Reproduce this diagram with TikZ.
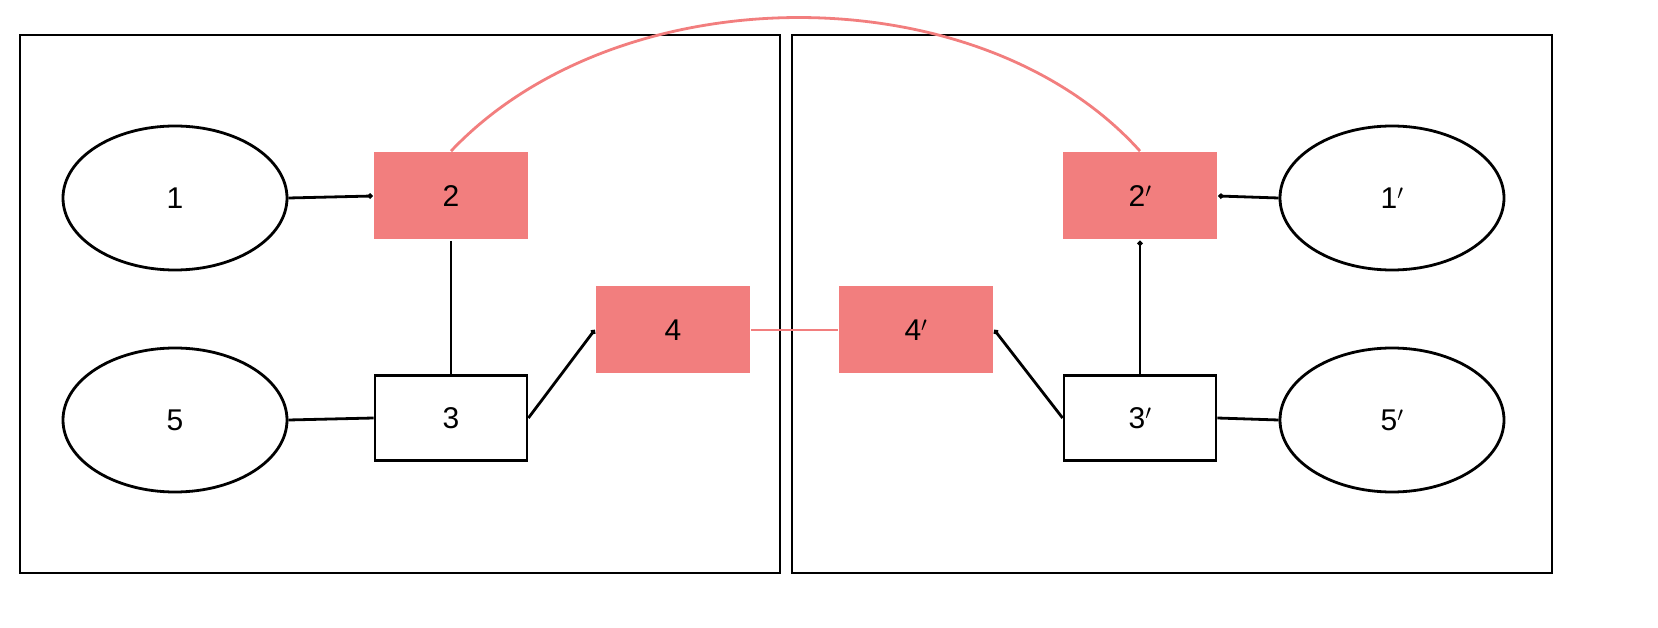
\documentclass[tikz,border=0pt]{standalone}
\usepackage{fontspec}
\setmainfont{Liberation Sans}
\usetikzlibrary{shapes.geometric,arrows.meta}
\definecolor{salmon}{HTML}{F27E7E}
\begin{document}
\begin{tikzpicture}[x=1pt,y=-1pt,line width=2.8pt,
  ell/.style={draw,ellipse,minimum width=224pt,minimum height=144pt,font=\fontsize{30}{30}\selectfont},
  redbox/.style={fill=salmon,minimum width=154pt,minimum height=87pt,font=\fontsize{30}{30}\selectfont},
  whitebox/.style={draw,fill=white,minimum width=152pt,minimum height=85pt,font=\fontsize{30}{30}\selectfont},
  dotend/.style={-{Circle[length=5pt]}}]
\path[use as bounding box] (0,0) rectangle (1658,628);
\begin{scope}[overlay]
\node[draw,minimum width=760pt,minimum height=538pt] (L) at (400,304) {};
\node[draw,minimum width=760pt,minimum height=538pt] (R) at (1172,304) {};
\node[ell] (n1) at (175,198) {1};
\node[ell] (n5) at (175,420) {5};
\node[ell] (m1) at (1392,198) {1$'$};
\node[ell] (m5) at (1392,420) {5$'$};
\node[redbox] (n2) at (451,196) {2};
\node[whitebox] (n3) at (451,418) {3};
\node[redbox] (n4) at (673,330) {4};
\node[redbox] (m4) at (916,330) {4$'$};
\node[redbox] (m2) at (1140,196) {2$'$};
\node[whitebox] (m3) at (1140,418) {3$'$};
\draw[dotend] (n1.east) -- (n2.west);
\draw (n2.south) -- (n3.north);
\draw (n5.east) -- (n3.west);
\draw[dotend] (n3.east) -- (n4.west);
\draw[salmon] (n4.east) -- (m4.west);
\draw[salmon] (n2.north) .. controls (620,-27) and (980,-27) .. (m2.north);
\draw[dotend] (m1.west) -- (m2.east);
\draw[{Circle[length=5pt]}-] (m2.south) -- (m3.north);
\draw[dotend] (m3.west) -- (m4.east);
\draw (m3.east) -- (m5.west);
\end{scope}
\end{tikzpicture}
\end{document}
